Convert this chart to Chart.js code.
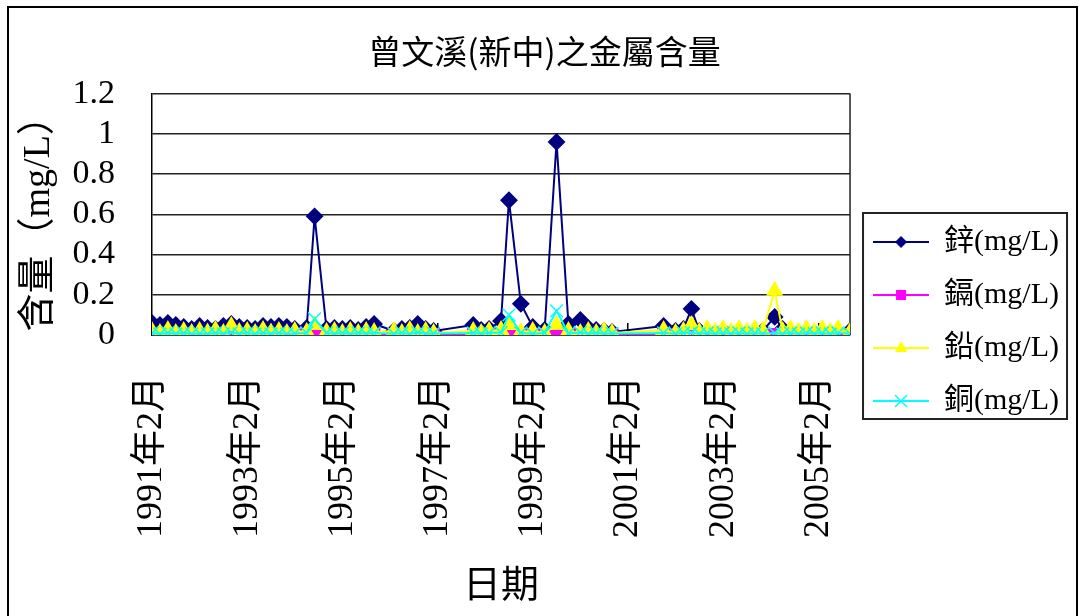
<!DOCTYPE html>
<html lang="zh-Hant">
<head>
    <meta charset="UTF-8">
    <title>曾文溪(新中)之金屬含量</title>
    <script src="https://cdn.jsdelivr.net/npm/chart.js"></script>
    <style>
        html, body { margin: 0; padding: 0; background: #fff; overflow: hidden; }
        .frame {
            position: absolute; left: 7px; top: 6px;
            width: 1067px; height: 700px;
            border: 2px solid #000;
        }
        .chart-box { position: absolute; left: 0; top: 0; width: 1083px; height: 616px; }
    </style>
</head>
<body>
    <div class="frame"></div>
    <div class="chart-box">
        <canvas id="metalChart" width="1083" height="616"></canvas>
    </div>

    <script>
        // sampling dates (year-month)
        const sampleDates = [
            '1991-02', '1991-04', '1991-06', '1991-08', '1991-10', '1991-12',
            '1992-02', '1992-04', '1992-06', '1992-08', '1992-10', '1992-12',
            '1993-02', '1993-04', '1993-06', '1993-08', '1993-10', '1993-12',
            '1994-02', '1994-05', '1994-07', '1994-10', '1994-12',
            '1995-02', '1995-04', '1995-06', '1995-08', '1995-10',
            '1996-03', '1996-05', '1996-07', '1996-09', '1996-11', '1997-01',
            '1997-11', '1998-01', '1998-03', '1998-06', '1998-08', '1998-11',
            '1999-02', '1999-05', '1999-08', '1999-11', '2000-02', '2000-04',
            '2000-06', '2000-08', '2000-10',
            '2001-11', '2002-02', '2002-04', '2002-06', '2002-08', '2002-10', '2002-12',
            '2003-02', '2003-04', '2003-06', '2003-08', '2003-10', '2003-12',
            '2004-03', '2004-05', '2004-07', '2004-09', '2004-11',
            '2005-01', '2005-03', '2005-05', '2005-07', '2005-10'
        ];

        // 鋅 zinc (mg/L)
        const zinc = [
            0.06, 0.05, 0.06, 0.05, 0.04, 0.03,
            0.045, 0.035, 0.03, 0.045, 0.055, 0.04,
            0.035, 0.03, 0.045, 0.04, 0.045, 0.04,
            0.03, 0.035, 0.59, 0.03, 0.035,
            0.03, 0.035, 0.025, 0.04, 0.055,
            0.02, 0.03, 0.035, 0.055, 0.03, 0.02,
            0.05, 0.025, 0.03, 0.07, 0.67, 0.155,
            0.04, 0.025, 0.96, 0.055, 0.075, 0.035,
            0.025, 0.02, 0.015,
            0.045, 0.02, 0.03, 0.13, 0.02, 0.015, 0.01,
            0.02, 0.01, 0.015, 0.01, 0.015, 0.02,
            0.09, 0.03, 0.015, 0.01, 0.015,
            0.01, 0.015, 0.01, 0.015, 0.02
        ];

        // 鎘 cadmium (mg/L)
        const cadmium = [
            0.004, 0.003, 0.004, 0.003, 0.005, 0.003,
            0.004, 0.003, 0.004, 0.003, 0.008, 0.003,
            0.004, 0.003, 0.004, 0.003, 0.004, 0.003,
            0.004, 0.003, 0.005, 0.003, 0.004,
            0.003, 0.004, 0.003, 0.004, 0.003,
            0.004, 0.003, 0.004, 0.003, 0.004, 0.003,
            0.004, 0.003, 0.004, 0.005, 0.012, 0.004,
            0.003, 0.004, 0.015, 0.004, 0.003, 0.004,
            0.003, 0.004, 0.002,
            0.003, 0.002, 0.003, 0.003, 0.002, 0.003, 0.002,
            0.003, 0.002, 0.003, 0.002, 0.003, 0.002,
            0.004, 0.002, 0.003, 0.002, 0.003,
            0.002, 0.003, 0.002, 0.003, 0.002
        ];

        // 鉛 lead (mg/L)
        const lead = [
            0.02, 0.01, 0.025, 0.01, 0.02, 0.01,
            0.02, 0.012, 0.025, 0.01, 0.045, 0.015,
            0.02, 0.01, 0.025, 0.012, 0.02, 0.01,
            0.02, 0.015, 0.05, 0.015, 0.02,
            0.01, 0.02, 0.01, 0.02, 0.015,
            0.02, 0.01, 0.025, 0.01, 0.02, 0.01,
            0.02, 0.01, 0.02, 0.025, 0.05, 0.015,
            0.02, 0.01, 0.05, 0.02, 0.01, 0.02,
            0.01, 0.02, 0.01,
            0.025, 0.01, 0.02, 0.05, 0.015, 0.03, 0.015,
            0.03, 0.015, 0.03, 0.015, 0.03, 0.02,
            0.22, 0.02, 0.03, 0.015, 0.03,
            0.015, 0.03, 0.015, 0.03, 0.015
        ];

        // 銅 copper (mg/L)
        const copper = [
            0.01, 0.005, 0.01, 0.006, 0.01, 0.005,
            0.008, 0.005, 0.01, 0.006, 0.012, 0.006,
            0.01, 0.005, 0.01, 0.006, 0.01, 0.005,
            0.008, 0.01, 0.08, 0.01, 0.006,
            0.01, 0.005, 0.01, 0.006, 0.01,
            0.006, 0.01, 0.005, 0.012, 0.006, 0.008,
            0.01, 0.006, 0.01, 0.012, 0.1, 0.01,
            0.006, 0.01, 0.12, 0.008, 0.012, 0.006,
            0.01, 0.006, 0.008,
            0.01, 0.006, 0.01, 0.012, 0.006, 0.01, 0.005,
            0.01, 0.006, 0.01, 0.005, 0.01, 0.006,
            0.01, 0.006, 0.01, 0.005, 0.01,
            0.006, 0.01, 0.005, 0.01, 0.006
        ];

        const seriesNames = ['鋅(mg/L)', '鎘(mg/L)', '鉛(mg/L)', '銅(mg/L)'];
        const seriesColors = ['#000080', '#FF00FF', '#FFFF00', '#00FFFF'];
        const yTickLabels = ['0', '0.2', '0.4', '0.6', '0.8', '1', '1.2'];
        const axisStart = '1991-02';
        const axisEnd = '2005-10';

        const serifCjk = "'Liberation Serif', 'Noto Sans CJK TC', serif";
        const sansCjk = "'Noto Sans CJK TC', sans-serif";

        // months counted from axisStart
        function monthIndex(s) {
            const [y0, m0] = axisStart.split('-').map(Number);
            const [y, m] = s.split('-').map(Number);
            return (y - y0) * 12 + (m - m0);
        }

        function monthLabel(v) {
            const [y0, m0] = axisStart.split('-').map(Number);
            const total = (m0 - 1) + v;
            return (y0 + Math.floor(total / 12)) + '年' + (total % 12 + 1) + '月';
        }

        function points(values) {
            return sampleDates.map((d, i) => ({ x: monthIndex(d), y: values[i] }));
        }

        // small canvas used as legend symbol: line with marker in the middle
        function legendIcon(color, shape) {
            const c = document.createElement('canvas');
            c.width = 56; c.height = 20;
            const g = c.getContext('2d');
            g.strokeStyle = color; g.fillStyle = color; g.lineWidth = 2;
            g.beginPath(); g.moveTo(0, 10); g.lineTo(56, 10); g.stroke();
            g.beginPath();
            if (shape === 'diamond') {
                g.moveTo(28, 4); g.lineTo(34, 10); g.lineTo(28, 16); g.lineTo(22, 10); g.closePath(); g.fill();
            } else if (shape === 'square') {
                g.rect(23, 5, 10, 10); g.fill();
            } else if (shape === 'triangle') {
                g.moveTo(28, 3); g.lineTo(34, 14); g.lineTo(22, 14); g.closePath(); g.fill();
            } else {
                g.lineWidth = 1.5;
                g.moveTo(22, 4); g.lineTo(34, 16); g.moveTo(34, 4); g.lineTo(22, 16); g.stroke();
            }
            return c;
        }

        const legendIcons = [
            legendIcon(seriesColors[0], 'diamond'),
            legendIcon(seriesColors[1], 'square'),
            legendIcon(seriesColors[2], 'triangle'),
            legendIcon(seriesColors[3], 'cross')
        ];

        // right border of plot + box round the legend
        const framePlugin = {
            id: 'framePlugin',
            beforeDatasetsDraw(chart) {
                const { ctx, chartArea } = chart;
                ctx.save();
                ctx.strokeStyle = '#222';
                ctx.lineWidth = 1.5;
                ctx.beginPath();
                ctx.moveTo(chartArea.right, chartArea.top);
                ctx.lineTo(chartArea.right, chartArea.bottom);
                ctx.stroke();
                ctx.restore();
            },
            afterDraw(chart) {
                const hb = chart.legend.legendHitBoxes;
                if (!hb || !hb.length) return;
                const first = hb[0], last = hb[hb.length - 1];
                const top = first.top - 14;
                const bottom = last.top + last.height + 3;
                const ctx = chart.ctx;
                ctx.save();
                ctx.strokeStyle = '#222';
                ctx.lineWidth = 2;
                ctx.strokeRect(first.left - 10, top, 204, bottom - top);
                ctx.restore();
            }
        };

        const ctx = document.getElementById('metalChart').getContext('2d');
        const metalChart = new Chart(ctx, {
            type: 'line',
            data: {
                datasets: [
                    {
                        label: seriesNames[0], data: points(zinc),
                        borderColor: seriesColors[0], backgroundColor: seriesColors[0],
                        borderWidth: 2, pointStyle: 'rectRot', pointRadius: 7.5, order: 4
                    },
                    {
                        label: seriesNames[1], data: points(cadmium),
                        borderColor: seriesColors[1], backgroundColor: seriesColors[1],
                        borderWidth: 2, pointStyle: 'rect', pointRadius: 7.5, order: 3
                    },
                    {
                        label: seriesNames[2], data: points(lead),
                        borderColor: seriesColors[2], backgroundColor: seriesColors[2],
                        borderWidth: 2, pointStyle: 'triangle', pointRadius: 8, order: 2
                    },
                    {
                        label: seriesNames[3], data: points(copper),
                        borderColor: seriesColors[3], backgroundColor: seriesColors[3],
                        borderWidth: 2, pointStyle: 'crossRot', pointRadius: 9,
                        pointBorderWidth: 1.5, order: 1
                    }
                ]
            },
            options: {
                responsive: false,
                animation: false,
                events: [],
                layout: { padding: { top: 27, right: 14, bottom: 0, left: 20 } },
                elements: { line: { tension: 0 } },
                plugins: {
                    title: {
                        display: true,
                        text: '曾文溪(新中)之金屬含量',
                        color: '#000',
                        font: { family: sansCjk, size: 33, weight: 'normal' },
                        padding: { top: 5, bottom: 22 }
                    },
                    legend: {
                        position: 'right',
                        labels: {
                            usePointStyle: true,
                            pointStyleWidth: 56,
                            padding: 23,
                            color: '#000',
                            font: { family: serifCjk, size: 30 },
                            generateLabels(chart) {
                                const items = Chart.defaults.plugins.legend.labels.generateLabels(chart);
                                items.sort((a, b) => a.datasetIndex - b.datasetIndex);
                                items.forEach(it => { it.pointStyle = legendIcons[it.datasetIndex]; });
                                return items;
                            }
                        }
                    },
                    tooltip: { enabled: false }
                },
                scales: {
                    x: {
                        type: 'linear',
                        min: monthIndex(axisStart),
                        max: monthIndex(axisEnd),
                        afterFit(scale) { scale.height = 281; },
                        grid: { drawOnChartArea: false, drawTicks: true, tickLength: -12, color: '#000', lineWidth: 1.5 },
                        border: { color: '#000', width: 1.5 },
                        ticks: {
                            stepSize: 24,
                            includeBounds: false,
                            autoSkip: false,
                            minRotation: 90,
                            maxRotation: 90,
                            padding: 53,
                            color: '#000',
                            font: { family: serifCjk, size: 36 },
                            callback: value => monthLabel(value)
                        },
                        title: {
                            display: true,
                            text: '日期',
                            color: '#000',
                            font: { family: sansCjk, size: 38 },
                            padding: { top: 0, bottom: 11 }
                        }
                    },
                    y: {
                        min: 0,
                        max: 1.2,
                        afterFit(scale) { scale.width = 132; },
                        grid: { color: '#222', lineWidth: 1.5, drawTicks: false },
                        border: { color: '#000', width: 1.5 },
                        ticks: {
                            stepSize: 0.2,
                            autoSkip: false,
                            padding: 37,
                            color: '#000',
                            font: { family: "'Liberation Serif', serif", size: 34 },
                            callback: (value, index) => yTickLabels[index]
                        },
                        title: {
                            display: true,
                            text: '含量（mg/L）',
                            color: '#000',
                            font: { family: serifCjk, size: 38 },
                            padding: { top: -4, bottom: 0 }
                        }
                    }
                }
            },
            plugins: [framePlugin]
        });
    </script>
</body>
</html>
